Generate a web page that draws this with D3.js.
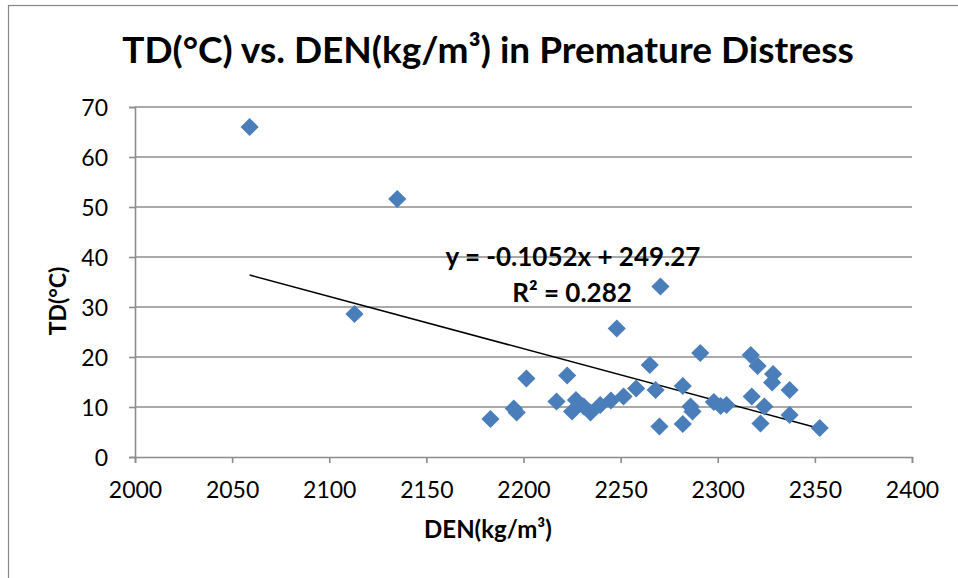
<!DOCTYPE html>
<html><head><meta charset="utf-8">
<script src="https://cdn.jsdelivr.net/npm/d3@7"></script>
<style>html,body{margin:0;padding:0;background:#fff;} svg{display:block;}</style>
</head><body>
<svg id="chart" width="958" height="578"></svg>
<script>
const den = [2059, 2135, 2113, 2183, 2195, 2196.5, 2201.5, 2217, 2222.5, 2225, 2227, 2231, 2234.5, 2239.5, 2245, 2248, 2251.5, 2258, 2265, 2268, 2270, 2270.5, 2282, 2282, 2286, 2287, 2291, 2298, 2301.5, 2304.5, 2317, 2320.5, 2317.5, 2322, 2324, 2328.5, 2328, 2337, 2337, 2352.5];
const td  = [66, 51.6, 28.6, 7.6, 9.7, 8.9, 15.7, 11.1, 16.3, 9.1, 11.4, 10.1, 8.9, 10.4, 11.3, 25.7, 12.1, 13.7, 18.4, 13.4, 6.1, 34.1, 14.2, 6.6, 10.1, 9.1, 20.8, 11.0, 10.2, 10.4, 20.4, 18.2, 12.1, 6.7, 10.1, 16.6, 14.9, 13.4, 8.4, 5.8];
const trendX = [2059, 2352.5];
const trendY = [36.4, 5.7];
const xTicks = [2000, 2050, 2100, 2150, 2200, 2250, 2300, 2350, 2400];
const yTicks = [0, 10, 20, 30, 40, 50, 60, 70];
const title = "TD(°C) vs. DEN(kg/m³) in Premature Distress";
const xTitle = "DEN(kg/m³)";
const yTitle = "TD(°C)";
const eqLine1 = "y = -0.1052x + 249.27";
const eqLine2 = "R² = 0.282";

const font = "Lato, 'Open Sans', sans-serif";
const svg = d3.select("#chart");
const L = 135, R = 912, T = 107, B = 457;
const x = d3.scaleLinear().domain([2000, 2400]).range([L, R]);
const y = d3.scaleLinear().domain([0, 70]).range([B, T]);

// outer chart border
svg.append("rect").attr("x", 8.5).attr("y", 5.5).attr("width", 1000).attr("height", 1000)
  .attr("fill", "none").attr("stroke", "#868686").attr("stroke-width", 1.2);

// gridlines
svg.append("g").selectAll("line").data(yTicks.filter(d => d > 0)).join("line")
  .attr("x1", L).attr("x2", R).attr("y1", d => y(d)).attr("y2", d => y(d))
  .attr("stroke", "#8c8c8c").attr("stroke-width", 1.6);

// axes
const xAxis = svg.append("g").attr("transform", `translate(0,${B})`)
  .call(d3.axisBottom(x).tickValues(xTicks).tickSize(6).tickPadding(19).tickFormat(d3.format("d")));
const yAxis = svg.append("g").attr("transform", `translate(${L},0)`)
  .call(d3.axisLeft(y).tickValues(yTicks).tickSize(6).tickPadding(21).tickFormat(d3.format("d")));
[xAxis, yAxis].forEach(g => {
  g.select(".domain").attr("stroke", "#8c8c8c").attr("stroke-width", 1.6);
  g.selectAll(".tick line").attr("stroke", "#8c8c8c").attr("stroke-width", 1.6);
  g.selectAll(".tick text").attr("fill", "#000").style("font-family", font).style("font-size", "23px");
});
xAxis.selectAll(".tick text").attr("dy", "0.71em");
yAxis.selectAll(".tick text").attr("dy", "0.36em");

// trendline
svg.append("line")
  .attr("x1", x(trendX[0])).attr("y1", y(trendY[0]))
  .attr("x2", x(trendX[1])).attr("y2", y(trendY[1]))
  .attr("stroke", "#000").attr("stroke-width", 1.5);

// points
const pts = den.map((d, i) => ({x: d, y: td[i]}));
const sym = d3.symbol().type(d3.symbolSquare).size(165);
svg.append("g").selectAll("path").data(pts).join("path")
  .attr("d", sym)
  .attr("transform", d => `translate(${x(d.x)},${y(d.y)}) rotate(45)`)
  .attr("fill", "#4a7ebb");

// equation
svg.append("text").attr("x", 573).attr("y", 266).attr("text-anchor", "middle")
  .style("font-family", font).style("font-weight", "bold").style("font-size", "26px").text(eqLine1);
svg.append("text").attr("x", 572).attr("y", 302).attr("text-anchor", "middle")
  .style("font-family", font).style("font-weight", "bold").style("font-size", "26px").text(eqLine2);

// titles
svg.append("text").attr("x", 488).attr("y", 63).attr("text-anchor", "middle")
  .style("font-family", font).style("font-weight", "bold").style("font-size", "37px").text(title);
svg.append("text").attr("x", 488).attr("y", 538).attr("text-anchor", "middle")
  .style("font-family", font).style("font-weight", "bold").style("font-size", "24px").text(xTitle);
svg.append("text").attr("transform", "translate(66,301) rotate(-90)").attr("text-anchor", "middle")
  .style("font-family", font).style("font-weight", "bold").style("font-size", "23px").text(yTitle);
</script>
</body></html>
